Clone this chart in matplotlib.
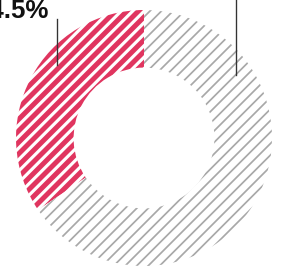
#!/usr/bin/env python3
"""
Hatched donut chart: share highlighted in pink, remainder in gray
"""

import matplotlib.pyplot as plt

# data
labels = ['Share', 'Rest']
shares = [34.5, 65.5]
colors = ['#e0355f', '#a8a8a8']
hatch_widths = [2.6, 0.9]
label_text = '34.5%'

DPI = 138
fig = plt.figure(figsize=(292 / DPI, 276 / DPI), dpi=DPI)
ax = fig.add_axes([0, 0, 1, 1])

wedges, _ = ax.pie(shares, startangle=90, counterclock=True, radius=1.0,
                   wedgeprops=dict(width=0.45, linewidth=0))
for w, c, hw in zip(wedges, colors, hatch_widths):
    w.set_facecolor('white')
    w.set_edgecolor(c)
    w.set_hatch('////')
    try:
        w.set_hatch_linewidth(hw)
    except AttributeError:
        plt.rcParams['hatch.linewidth'] = hw

# leader lines and label
ax.plot([-0.68, -0.68], [0.93, 0.57], color='#333333', lw=0.7, zorder=5)
ax.plot([0.72, 0.72], [1.2, 0.49], color='#333333', lw=0.7, zorder=5, clip_on=False)
ax.text(-0.74, 0.935, label_text, ha='right', va='baseline',
        fontsize=13.5, fontweight='bold', family='Liberation Sans', color='#111111')

ax.set_xlim(-144 / 128, 148 / 128)
ax.set_ylim(-138 / 128, 138 / 128)
ax.set_aspect('equal')
ax.axis('off')

fig.savefig('out.png', dpi=DPI)
plt.close(fig)
